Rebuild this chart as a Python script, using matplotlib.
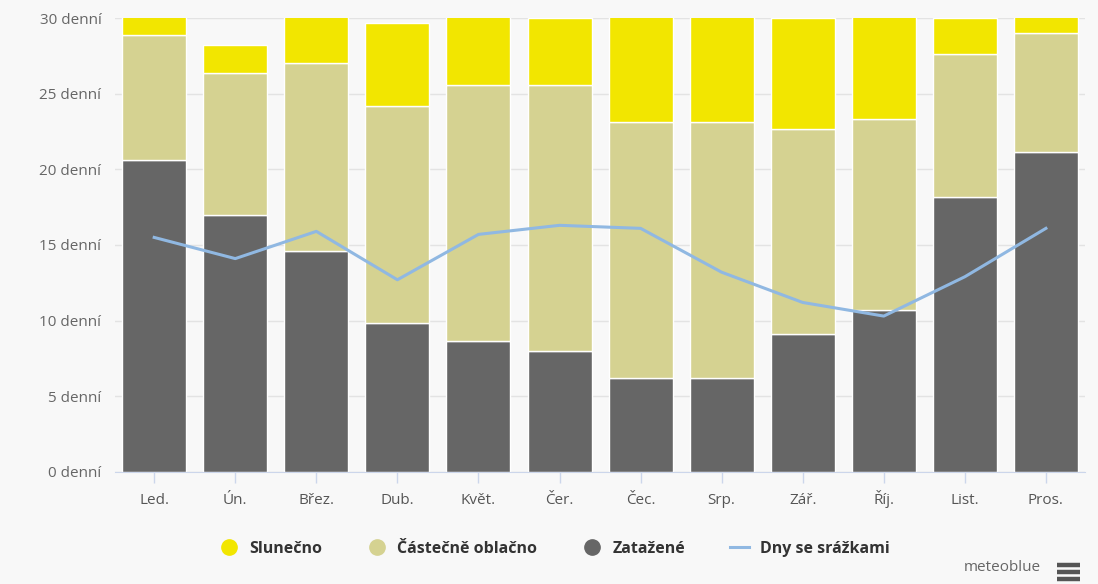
import matplotlib.pyplot as plt
from matplotlib.lines import Line2D

# monthly cloud cover days and precipitation days
months = ["Led.", "Ún.", "Břez.", "Dub.", "Květ.", "Čer.", "Čec.", "Srp.", "Zář.", "Říj.", "List.", "Pros."]
overcast = [20.6, 17.0, 14.6, 9.85, 8.65, 8.0, 6.2, 6.2, 9.1, 10.7, 18.2, 21.15]
partly_cloudy = [8.3, 9.4, 12.4, 14.35, 16.95, 17.6, 16.9, 16.9, 13.6, 12.6, 9.4, 7.85]
sunny = [2.1, 1.85, 4.0, 5.5, 5.4, 4.4, 7.9, 7.9, 7.3, 7.7, 2.4, 2.0]
precip_days = [15.5, 14.1, 15.9, 12.7, 15.7, 16.3, 16.1, 13.2, 11.2, 10.3, 12.9, 16.1]
y_ticks = [0, 5, 10, 15, 20, 25, 30]

c_sunny = "#f2e600"
c_partly = "#d5d291"
c_overcast = "#666666"
c_precip = "#90b8e2"
bg = "#f8f8f8"

plt.rcParams["font.family"] = ["Open Sans", "DejaVu Sans"]

fig = plt.figure(figsize=(10.98, 5.84), dpi=100, facecolor=bg)
ax = fig.add_axes([0.105, 0.192, 0.883, 0.777], facecolor=bg)

x = list(range(len(months)))
bottom2 = [o + p for o, p in zip(overcast, partly_cloudy)]
ax.bar(x, overcast, width=0.79, color=c_overcast, edgecolor="white", linewidth=1, zorder=2)
ax.bar(x, partly_cloudy, width=0.79, bottom=overcast, color=c_partly, edgecolor="white", linewidth=1, zorder=2)
ax.bar(x, sunny, width=0.79, bottom=bottom2, color=c_sunny, edgecolor="white", linewidth=1, zorder=2)
ax.plot(x, precip_days, color=c_precip, linewidth=2.2, zorder=3)

ax.set_ylim(0, 30)
ax.set_xlim(-0.48, 11.48)
ax.set_yticks(y_ticks)
ax.set_yticklabels([f"{v} denní" for v in y_ticks])
ax.set_xticks(x)
ax.set_xticklabels(months)
ax.grid(axis="y", color="#e3e3e3", linewidth=1, zorder=0)
ax.tick_params(axis="y", length=0, pad=10, labelsize=11, labelcolor="#666666")
ax.tick_params(axis="x", length=8, width=1, color="#ccd6eb", pad=15, labelsize=11, labelcolor="#555555")
# align month labels on a common baseline so accented capitals don't shift
for lbl in ax.get_xticklabels():
    lbl.set_verticalalignment("baseline")
for side in ["top", "right", "left"]:
    ax.spines[side].set_visible(False)
ax.spines["bottom"].set_color("#ccd6eb")

handles = [
    Line2D([], [], marker="o", linestyle="none", markersize=11, color=c_sunny),
    Line2D([], [], marker="o", linestyle="none", markersize=11, color=c_partly),
    Line2D([], [], marker="o", linestyle="none", markersize=11, color=c_overcast),
    Line2D([], [], color=c_precip, linewidth=2.2),
]
labels = ["Slunečno", "Částečně oblačno", "Zatažené", "Dny se srážkami"]
fig.legend(handles, labels, loc="center", bbox_to_anchor=(0.505, 0.06), ncol=4, frameon=False,
           prop={"weight": "bold", "size": 11.5}, labelcolor="#333333", handlelength=1.2,
           columnspacing=2.8, handletextpad=0.7)

# credit and menu icon
fig.text(0.948, 0.015, "meteoblue", ha="right", va="bottom", fontsize=11, color="#666666")
for yy in [0.0325, 0.0205, 0.0085]:
    fig.add_artist(Line2D([0.963, 0.984], [yy, yy], color="#555555", linewidth=3.2,
                          solid_capstyle="butt", transform=fig.transFigure))

fig.savefig("out.png", dpi=100, facecolor=bg)
